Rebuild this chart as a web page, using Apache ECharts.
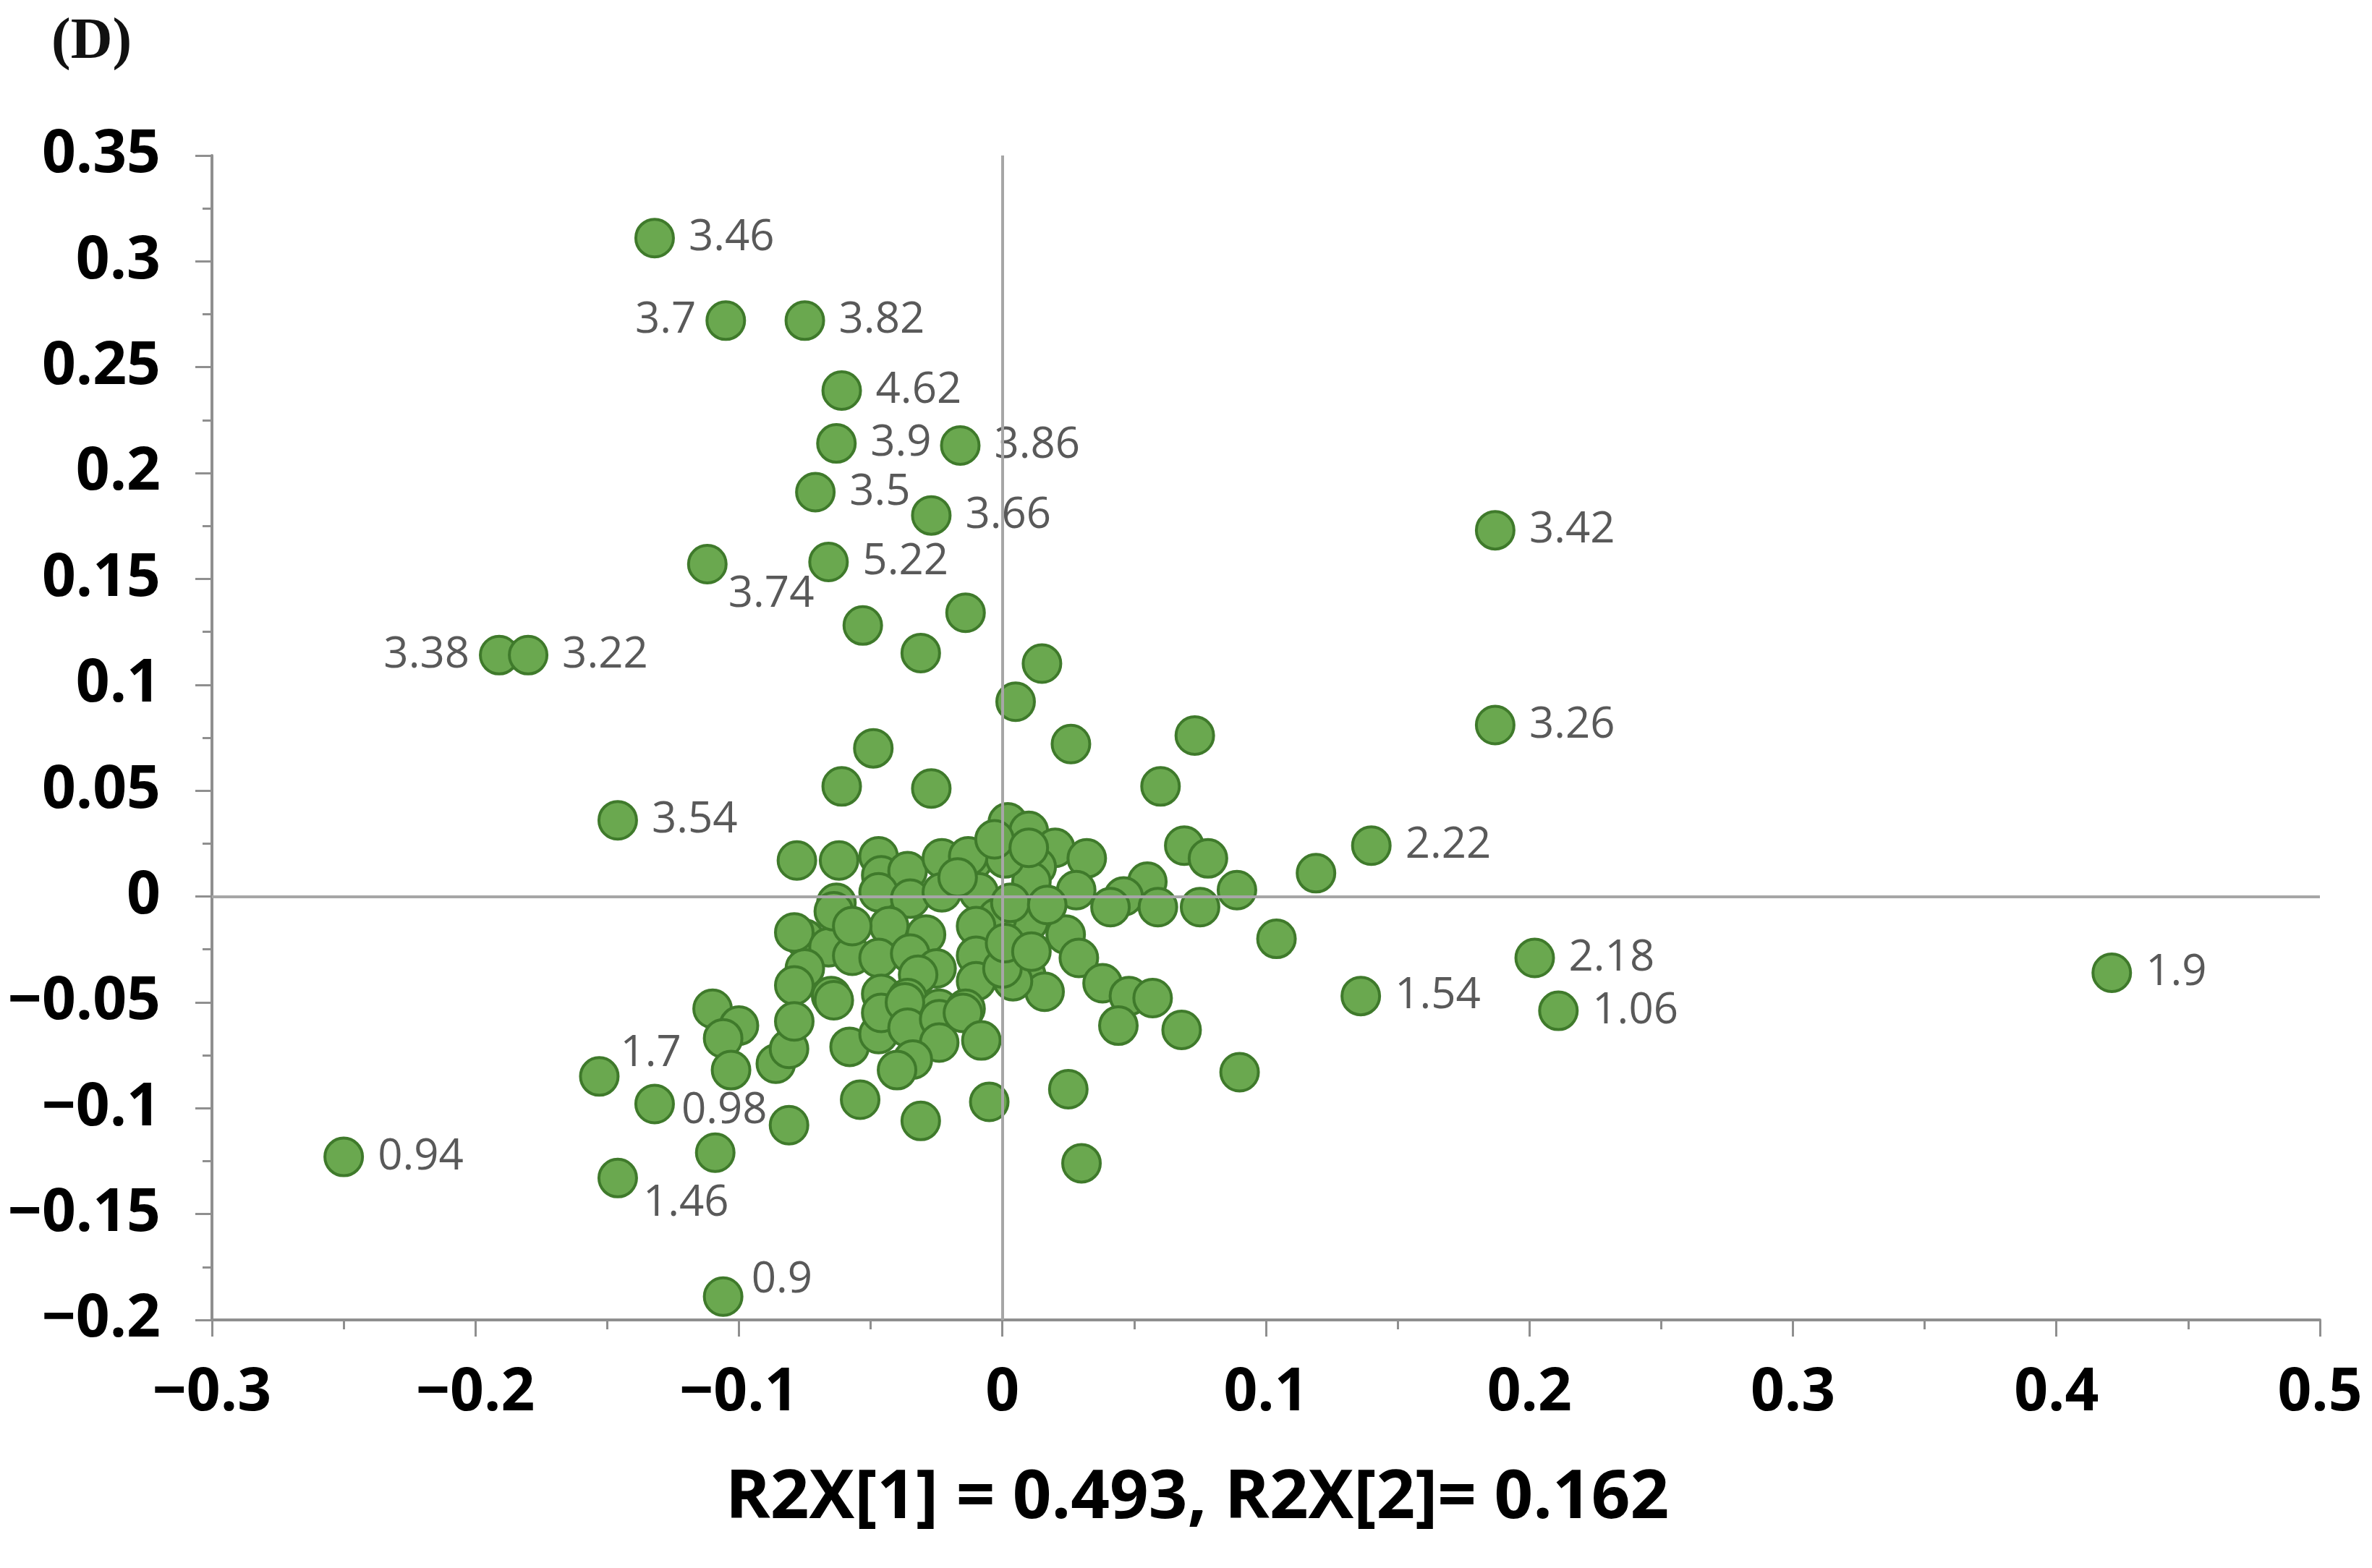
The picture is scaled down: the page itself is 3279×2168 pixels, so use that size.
<!DOCTYPE html>
<html>
<head>
<meta charset="utf-8">
<title>PCA score plot (D)</title>
<script src="https://cdn.jsdelivr.net/npm/echarts/dist/echarts.min.js"></script>
<style>
    html, body { margin: 0; padding: 0; background: #fff; }
    #chart { width: 3279px; height: 2168px; }
</style>
</head>
<body>
<div id="chart"></div>
<script>
    // labelled samples (value shown next to the dot)
    const labelText = ['3.46', '3.7', '3.82', '4.62', '3.9', '3.86', '3.5', '3.66', '3.42', '3.74', '5.22', '3.38', '3.22',
        '3.26', '3.54', '2.22', '2.18', '1.54', '1.06', '1.9', '1.7', '0.98', '0.94', '1.46', '0.9'];
    const labelX = [-0.132, -0.105, -0.075, -0.061, -0.063, -0.016, -0.071, -0.027, 0.187, -0.112, -0.066, -0.191, -0.180,
        0.187, -0.146, 0.140, 0.202, 0.136, 0.211, 0.421, -0.153, -0.132, -0.250, -0.146, -0.106];
    const labelY = [0.311, 0.272, 0.272, 0.239, 0.214, 0.213, 0.191, 0.180, 0.173, 0.157, 0.158, 0.114, 0.114,
        0.081, 0.036, 0.024, -0.029, -0.047, -0.054, -0.036, -0.085, -0.098, -0.123, -0.133, -0.189];

    // the rest of the scores (no label)
    const scoreX = [-0.053, -0.014, -0.031, 0.015, 0.005, -0.049, 0.026, 0.073, -0.061, -0.027, 0.060,
        0.002, 0.010, 0.020, 0.032, 0.013, 0.028, 0.011, 0.055, 0.046, 0.041, 0.059, 0.069, 0.078, 0.089, 0.075,
        0.119, 0.104, 0.010, 0.024, 0.029, 0.009, 0.016, 0.038, 0.048, 0.057, 0.044, 0.068, 0.090, 0.025, 0.030, 0.004,
        -0.078, -0.062, -0.047, -0.046, -0.036, -0.047, -0.063, -0.035, -0.023, -0.023, -0.011, 0.001, -0.009,
        -0.002, -0.010, -0.043, -0.029, -0.058, -0.075, -0.079, -0.066, -0.057, -0.047, -0.035, -0.025, -0.032,
        -0.010, -0.010, 0.000, -0.075, -0.079, -0.065, -0.046, -0.036, -0.024, -0.014, -0.064, -0.057,
        -0.110, -0.100, -0.106, -0.103, -0.086, -0.081, -0.079, -0.064, -0.058, -0.047, -0.046, -0.037, -0.036,
        -0.024, -0.015, -0.024, -0.008, -0.034, -0.040, -0.054, -0.081, -0.031, -0.005, -0.109,
        -0.013, -0.003, 0.010, 0.003, 0.017, 0.001, 0.011, -0.017];
    const scoreY = [0.128, 0.134, 0.115, 0.110, 0.092, 0.070, 0.072, 0.076, 0.052, 0.051, 0.052,
        0.035, 0.031, 0.023, 0.018, 0.014, 0.003, 0.007, 0.007, 0.000, -0.005, -0.005, 0.024, 0.018, 0.003, -0.005,
        0.011, -0.020, -0.012, -0.018, -0.029, -0.037, -0.045, -0.041, -0.047, -0.048, -0.061, -0.063, -0.083, -0.091, -0.126, -0.040,
        0.017, 0.017, 0.019, 0.010, 0.012, 0.002, -0.003, -0.001, 0.018, 0.002, 0.017, 0.018, 0.002,
        -0.010, -0.014, -0.014, -0.018, -0.015, -0.020, -0.017, -0.024, -0.028, -0.029, -0.027, -0.034, -0.037,
        -0.028, -0.040, -0.034, -0.034, -0.042, -0.047, -0.046, -0.048, -0.053, -0.053, -0.007, -0.014,
        -0.053, -0.061, -0.067, -0.082, -0.079, -0.072, -0.059, -0.049, -0.071, -0.065, -0.055, -0.050, -0.062,
        -0.058, -0.055, -0.069, -0.068, -0.077, -0.082, -0.096, -0.108, -0.106, -0.097, -0.121,
        0.019, 0.027, 0.023, -0.003, -0.004, -0.022, -0.026, 0.009];

    const xTicks = { min: -0.3, max: 0.5, step: 0.1 };
    const yTicks = { min: -0.2, max: 0.35, step: 0.05 };
    const axisTitle = 'R2X[1] = 0.493, R2X[2]= 0.162';

    // where a label does not sit plainly on the right of its dot
    const labelPlace = {
        '3.7': { position: 'left', distance: 13 },
        '3.38': { position: 'left', distance: 13 },
        '3.74': { distance: 1, offset: [0, 42] },
        '1.7': { distance: 1, offset: [0, -31] },
        '0.98': { distance: 9, offset: [0, 9] },
        '1.46': { distance: 7, offset: [0, 35] },
        '0.9': { distance: 11, offset: [0, -23] }
    };

    const dotFill = '#6aa84f';
    const dotBorder = '#3f7a2b';
    const axisGray = '#8f8f8f';

    function fmt(v) {
        let s = String(Number(Math.abs(v).toFixed(2)));
        return v < 0 ? '\u2212' + s : s;
    }

    let plain = scoreX.map((x, i) => [x, scoreY[i]]);
    let named = labelX.map((x, i) => {
        let item = { value: [x, labelY[i], labelText[i]] };
        if (labelPlace[labelText[i]]) {
            item.label = labelPlace[labelText[i]];
        }
        return item;
    });

    let tickFont = {
        color: '#000',
        fontFamily: 'Open Sans',
        fontWeight: 'bold',
        fontSize: 82,
        lineHeight: 82
    };

    let option = {
        animation: false,
        backgroundColor: '#fff',
        title: {
            text: '(D)',
            left: 66,
            top: 14,
            textStyle: {
                fontFamily: 'Liberation Serif',
                fontWeight: 'bold',
                fontSize: 80,
                color: '#111'
            }
        },
        grid: { left: 293, right: 72, top: 215, bottom: 343 },
        xAxis: {
            type: 'value',
            min: xTicks.min,
            max: xTicks.max,
            interval: xTicks.step,
            name: axisTitle,
            nameLocation: 'middle',
            nameGap: 200,
            nameTextStyle: {
                color: '#000',
                fontFamily: 'Open Sans',
                fontWeight: 'bold',
                fontSize: 94,
                lineHeight: 94,
                padding: [0, 190, 0, 0]
            },
            axisLine: { onZero: false, lineStyle: { color: axisGray, width: 4 } },
            axisTick: { length: 23, lineStyle: { color: axisGray, width: 3 } },
            minorTick: { show: true, splitNumber: 2, length: 13, lineStyle: { color: axisGray, width: 3 } },
            splitLine: { show: false },
            axisLabel: Object.assign({ margin: 61, formatter: fmt }, tickFont)
        },
        yAxis: {
            type: 'value',
            min: yTicks.min,
            max: yTicks.max,
            interval: yTicks.step,
            axisLine: { show: true, onZero: false, lineStyle: { color: axisGray, width: 4 } },
            axisTick: { show: true, length: 23, lineStyle: { color: axisGray, width: 3 } },
            minorTick: { show: true, splitNumber: 2, length: 13, lineStyle: { color: axisGray, width: 3 } },
            splitLine: { show: false },
            axisLabel: Object.assign({ margin: 71, formatter: fmt }, tickFont)
        },
        series: [
            {
                // zero cross lines, kept under the dots
                type: 'scatter',
                data: [],
                z: 1,
                silent: true,
                markLine: {
                    silent: true,
                    symbol: 'none',
                    label: { show: false },
                    lineStyle: { color: '#a6a6a6', width: 4, type: 'solid' },
                    data: [{ xAxis: 0 }, { yAxis: 0 }]
                }
            },
            {
                type: 'scatter',
                z: 3,
                symbolSize: 52,
                itemStyle: { color: dotFill, borderColor: dotBorder, borderWidth: 4, opacity: 1 },
                data: plain
            },
            {
                type: 'scatter',
                z: 4,
                symbolSize: 52,
                itemStyle: { color: dotFill, borderColor: dotBorder, borderWidth: 4, opacity: 1 },
                label: {
                    show: true,
                    position: 'right',
                    distance: 19,
                    color: '#595959',
                    fontFamily: 'Open Sans',
                    fontSize: 60,
                    formatter: p => p.value[2]
                },
                data: named
            }
        ]
    };

    let chart = echarts.init(document.getElementById('chart'), null, { renderer: 'canvas' });
    chart.setOption(option);
</script>
</body>
</html>
